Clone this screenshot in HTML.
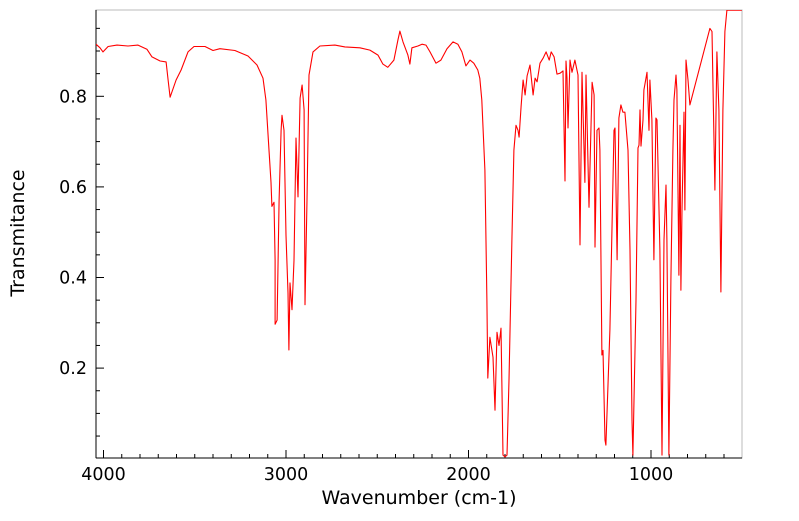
<!DOCTYPE html>
<html><head><meta charset="utf-8"><style>
body{margin:0;background:#fff;}
svg text{font-family:"DejaVu Sans","Liberation Sans",sans-serif;fill:#000;}
</style></head><body>
<svg id="chart" width="799" height="516" viewBox="0 0 799 516" xmlns="http://www.w3.org/2000/svg">
<g id="axes"></g>
<g id="plot"></g>
<text x="419" y="504" font-size="19" text-anchor="middle">Wavenumber (cm-1)</text>
<text x="24" y="233" font-size="19" text-anchor="middle" transform="rotate(-90 24 233)">Transmitance</text>
</svg>
<script>
const wavenumbers=[4041,4019,4003,3975,3926,3866,3811,3762,3734,3690,3657,3646,3635,3602,3575,3537,3504,3444,3400,3362,3280,3208,3159,3126,3110,3093,3082,3077,3066,3060,3060,3049,3038,3027,3022,3011,3000,2989,2984,2978,2967,2956,2945,2934,2923,2912,2901,2896,2885,2874,2852,2814,2732,2677,2595,2540,2496,2469,2442,2409,2387,2376,2359,2332,2321,2310,2277,2255,2233,2211,2178,2151,2118,2085,2058,2036,2014,1992,1971,1949,1938,1927,1910,1899,1894,1883,1866,1855,1844,1833,1822,1811,1800,1789,1778,1762,1751,1740,1729,1723,1712,1701,1690,1679,1663,1646,1635,1624,1608,1591,1575,1558,1547,1531,1515,1498,1482,1471,1466,1460,1455,1444,1433,1417,1400,1389,1378,1362,1356,1340,1323,1312,1307,1296,1285,1280,1269,1263,1252,1247,1225,1203,1197,1186,1176,1165,1154,1143,1126,1115,1104,1099,1082,1071,1066,1060,1055,1044,1039,1022,1011,1006,995,984,973,967,951,940,929,918,913,902,891,880,874,863,858,847,841,836,830,819,814,808,797,787,677,666,650,639,628,617,606,595,584,502];
const transmittance=[.915,.907,.898,.91,.913,.911,.913,.904,.887,.878,.876,.836,.798,.836,.858,.898,.91,.91,.901,.905,.901,.889,.869,.84,.792,.681,.61,.557,.566,.438,.297,.306,.571,.725,.758,.725,.493,.366,.24,.388,.329,.438,.708,.578,.796,.825,.77,.34,.571,.847,.898,.911,.913,.909,.907,.902,.891,.871,.864,.88,.924,.944,.92,.891,.871,.907,.911,.915,.913,.898,.873,.88,.905,.92,.915,.898,.867,.88,.873,.858,.84,.792,.637,.35,.178,.268,.224,.107,.279,.25,.288,.008,.004,.008,.174,.483,.681,.736,.725,.71,.778,.836,.803,.845,.869,.803,.84,.832,.873,.884,.898,.88,.898,.887,.849,.851,.856,.613,.878,.84,.73,.88,.853,.88,.847,.472,.853,.61,.847,.555,.831,.803,.467,.725,.73,.681,.229,.239,.041,.03,.284,.725,.73,.439,.752,.781,.765,.765,.681,.461,.085,.008,.35,.686,.692,.77,.69,.748,.814,.853,.725,.836,.748,.439,.752,.748,.461,.008,.483,.604,.483,.008,.394,.681,.792,.847,.814,.405,.736,.372,.549,.765,.549,.88,.836,.781,.95,.943,.593,.898,.77,.368,.77,.943,.99,.99];
const xTicks=[4000,3000,2000,1000];
const xTickLabels=["4000","3000","2000","1000"];
const yTicks=[0.2,0.4,0.6,0.8];
const yTickLabels=["0.2","0.4","0.6","0.8"];

const L=96,R=742,T=10,B=458;
const xScale=w=>103.5+(4000-w)*182.5/1000;
const yScale=v=>458.7-v*453;
const NS="http://www.w3.org/2000/svg";
function mk(tag,attrs,parent){const e=document.createElementNS(NS,tag);for(const k in attrs)e.setAttribute(k,attrs[k]);parent.appendChild(e);return e;}
const axes=document.getElementById('axes'),plot=document.getElementById('plot');

const frame=mk('rect',{x:L,y:T,width:R-L,height:B-T,fill:'none',stroke:'#bbb','stroke-width':1},axes);


const la=mk('line',{x1:L,y1:T,x2:L,y2:B,stroke:'#000','stroke-width':1},axes);


const ba=mk('line',{x1:L,y1:B,x2:R,y2:B,stroke:'#000','stroke-width':1},axes);



for(let w=4000;w>=600;w-=100){const x=xScale(w);const major=w%1000===0;
 const t=mk('line',{x1:x,y1:B,x2:x,y2:B-(major?8:4),stroke:'#000','stroke-width':1},axes);
 
 }
xTicks.forEach((w,i)=>{const t=mk('text',{x:xScale(w),y:B+22,'font-size':17.5,'text-anchor':'middle'},axes);t.textContent=xTickLabels[i];
 
 });
for(let k=1;k<=19;k++){const v=k*0.05;const y=yScale(v);if(y<T)continue;const major=Math.abs(v*10-Math.round(v*10))<1e-6&&Math.round(v*10)%2===0;
 const t=mk('line',{x1:L,y1:y,x2:L+(major?8:4),y2:y,stroke:'#000','stroke-width':1},axes);
 
 }
yTicks.forEach((v,i)=>{const t=mk('text',{x:L-9,y:yScale(v)+6,'font-size':17.5,'text-anchor':'end'},axes);t.textContent=yTickLabels[i];
 
 });

const cp=mk('clipPath',{id:'clip'},plot);mk('rect',{x:L,y:T,width:R-L,height:B-T},cp);
const d=wavenumbers.map((w,i)=>(i?'L':'M')+xScale(w).toFixed(1)+','+yScale(transmittance[i]).toFixed(1)).join('');
const line=mk('path',{d:d,fill:'none',stroke:'#ff0000','stroke-width':1.1,'clip-path':'url(#clip)','stroke-linejoin':'round'},plot);


</script>
</body></html>
